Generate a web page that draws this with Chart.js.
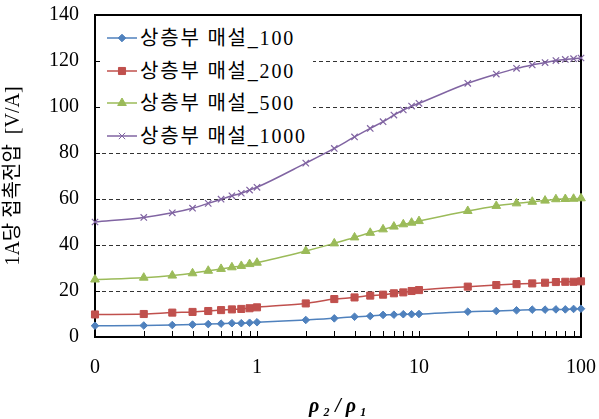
<!DOCTYPE html>
<html>
<head>
<meta charset="utf-8">
<script src="https://cdn.jsdelivr.net/npm/chart.js@4.4.1/dist/chart.umd.min.js"></script>
<style>
body { margin: 0; background: #fff; }
#wrap { position: relative; width: 599px; height: 419px; }
#legend { position: absolute; left: 101px; top: 17px; width: 212px; height: 133px; background: #fff; }
.item { position: absolute; left: 0; height: 32px; line-height: 32px; font: 20px "Liberation Serif", "Noto Sans CJK KR", serif; letter-spacing: 1.8px; color: #000; white-space: nowrap; }
.item canvas { position: absolute; left: 6px; top: 9px; }
.item span { position: absolute; left: 39px; }
</style>
</head>
<body>
<div id="wrap">
  <canvas id="chart" width="599" height="419"></canvas>
  <div id="legend"></div>
</div>
<script>
// x 위치 (0 은 0.1 위치에 찍음)
const xVals = [0.1, 0.2, 0.3, 0.4, 0.5, 0.6, 0.7, 0.8, 0.9, 1, 2, 3, 4, 5, 6, 7, 8, 9, 10, 20, 30, 40, 50, 60, 70, 80, 90, 100];
const xMajor = [0.1, 1, 10, 100];
const xTickLabels = ['0', '1', '10', '100'];

const seriesNames = ['상층부 매설_100', '상층부 매설_200', '상층부 매설_500', '상층부 매설_1000'];
const s100 = [4.9, 5.0, 5.2, 5.4, 5.6, 5.8, 6.0, 6.0, 6.2, 6.4, 7.4, 8.1, 8.8, 9.1, 9.6, 9.7, 9.9, 9.9, 10.0, 11.0, 11.3, 11.6, 11.9, 11.9, 12.0, 12.0, 12.2, 12.3];
const s200 = [9.8, 10.0, 10.6, 10.9, 11.3, 11.7, 12.0, 12.2, 12.5, 12.9, 14.6, 16.5, 17.2, 18.0, 18.4, 19.0, 19.4, 20.0, 20.4, 21.9, 22.6, 23.0, 23.3, 23.6, 23.9, 24.0, 24.0, 24.2];
const s500 = [25.0, 25.8, 26.7, 27.7, 28.8, 29.6, 30.3, 30.9, 31.7, 32.3, 37.4, 40.7, 43.3, 45.3, 46.8, 48.0, 49.0, 49.7, 50.4, 54.8, 57.0, 58.1, 58.8, 59.3, 59.9, 60.0, 60.1, 60.3];
const s1000 = [50.0, 52.0, 54.0, 56.0, 58.1, 59.9, 61.4, 62.5, 63.9, 65.1, 75.6, 82.0, 87.0, 90.7, 93.6, 96.5, 98.7, 100.4, 101.6, 110.3, 114.3, 116.8, 118.3, 119.3, 120.2, 120.7, 121.0, 121.3];

const colors = ['#4F81BD', '#C0504D', '#9BBB59', '#8064A2'];
const markers = ['rectRot', 'rect', 'triangle', 'crossRot'];
const markerSize = [3.8, 5, 5, 4.5];

const font = { family: '"Liberation Serif", "Noto Sans CJK KR", serif', size: 20 };

const datasets = [s100, s200, s500, s1000].map((vals, i) => ({
    label: seriesNames[i],
    data: vals.map((v, j) => ({ x: xVals[j], y: v })),
    showLine: true,
    borderColor: colors[i],
    backgroundColor: colors[i],
    borderWidth: 1.5,
    pointStyle: markers[i],
    pointRadius: markerSize[i],
    pointBorderWidth: i === 3 ? 1.2 : 1,
    cubicInterpolationMode: 'monotone',
    clip: false
}));

// 테두리 + 안쪽 눈금
const frame = {
    id: 'frame',
    beforeDatasetsDraw(chart) {
        const { ctx, chartArea: a, scales: { x, y } } = chart;
        ctx.save();
        ctx.strokeStyle = '#000';
        ctx.lineWidth = 1;
        ctx.beginPath();
        x.ticks.forEach(t => {
            const px = Math.round(x.getPixelForValue(t.value)) + 0.5;
            ctx.moveTo(px, a.bottom);
            ctx.lineTo(px, a.bottom - 6);
        });
        y.ticks.forEach(t => {
            const py = Math.round(y.getPixelForValue(t.value)) + 0.5;
            ctx.moveTo(a.left, py);
            ctx.lineTo(a.left + 5, py);
        });
        ctx.stroke();
        ctx.lineWidth = 2;
        ctx.strokeRect(a.left, a.top, a.width, a.height);
        ctx.restore();
    }
};

new Chart(document.getElementById('chart'), {
    type: 'scatter',
    data: { datasets },
    options: {
        responsive: false,
        animation: false,
        layout: { padding: { top: 15, right: 18, left: 0, bottom: 0 } },
        plugins: { legend: { display: false }, tooltip: { enabled: false } },
        scales: {
            x: {
                type: 'logarithmic',
                min: 0.1,
                max: 100,
                afterBuildTicks: s => { s.ticks = xVals.map(v => ({ value: v })); },
                afterFit: s => { s.height = 82; s.paddingLeft = 0; s.paddingRight = 0; },
                ticks: {
                    autoSkip: false,
                    maxRotation: 0,
                    padding: 19,
                    color: '#000',
                    font,
                    callback: v => {
                        const i = xMajor.indexOf(v);
                        return i < 0 ? '' : xTickLabels[i];
                    }
                },
                grid: { display: false, drawTicks: false },
                border: { display: false },
                title: {
                    display: true,
                    text: 'ρ\u2009₂ / ρ\u2009₁',
                    color: '#000',
                    font: { family: '"Liberation Serif", serif', size: 20, style: 'italic', weight: 'bold' },
                    padding: { top: 0, bottom: 0 }
                }
            },
            y: {
                min: 0,
                max: 140,
                afterFit: s => { s.width = 95; s.paddingTop = 0; s.paddingBottom = 0; },
                ticks: { stepSize: 20, padding: 16, color: '#000', font },
                grid: {
                    drawTicks: false,
                    lineWidth: 1,
                    color: c => (c.tick && (c.tick.value === 0 || c.tick.value === 140)) ? 'rgba(0,0,0,0)' : '#333'
                },
                border: { display: false, dash: [4, 3] },
                title: {
                    display: true,
                    text: '1A당 접촉전압  [V/A]',
                    color: '#000',
                    font: { family: '"Liberation Serif", "Noto Sans CJK KR", serif', size: 20 },
                    padding: { top: 2, bottom: 0 }
                }
            }
        }
    },
    plugins: [frame]
});

// 범례 (흰 바탕으로 격자선을 가림)
const legend = document.getElementById('legend');
seriesNames.forEach((name, i) => {
    const row = document.createElement('div');
    row.className = 'item';
    row.style.top = (5 + i * 32.5) + 'px';
    const c = document.createElement('canvas');
    c.width = 30;
    c.height = 14;
    const g = c.getContext('2d');
    g.strokeStyle = colors[i];
    g.fillStyle = colors[i];
    g.lineWidth = 1.5;
    g.beginPath();
    g.moveTo(0, 7);
    g.lineTo(30, 7);
    g.stroke();
    g.lineWidth = 1;
    Chart.helpers.drawPoint(g, { pointStyle: markers[i], radius: markerSize[i], rotation: 0, borderWidth: 1 }, 15, 7);
    const t = document.createElement('span');
    t.textContent = name;
    row.appendChild(c);
    row.appendChild(t);
    legend.appendChild(row);
});
</script>
</body>
</html>
